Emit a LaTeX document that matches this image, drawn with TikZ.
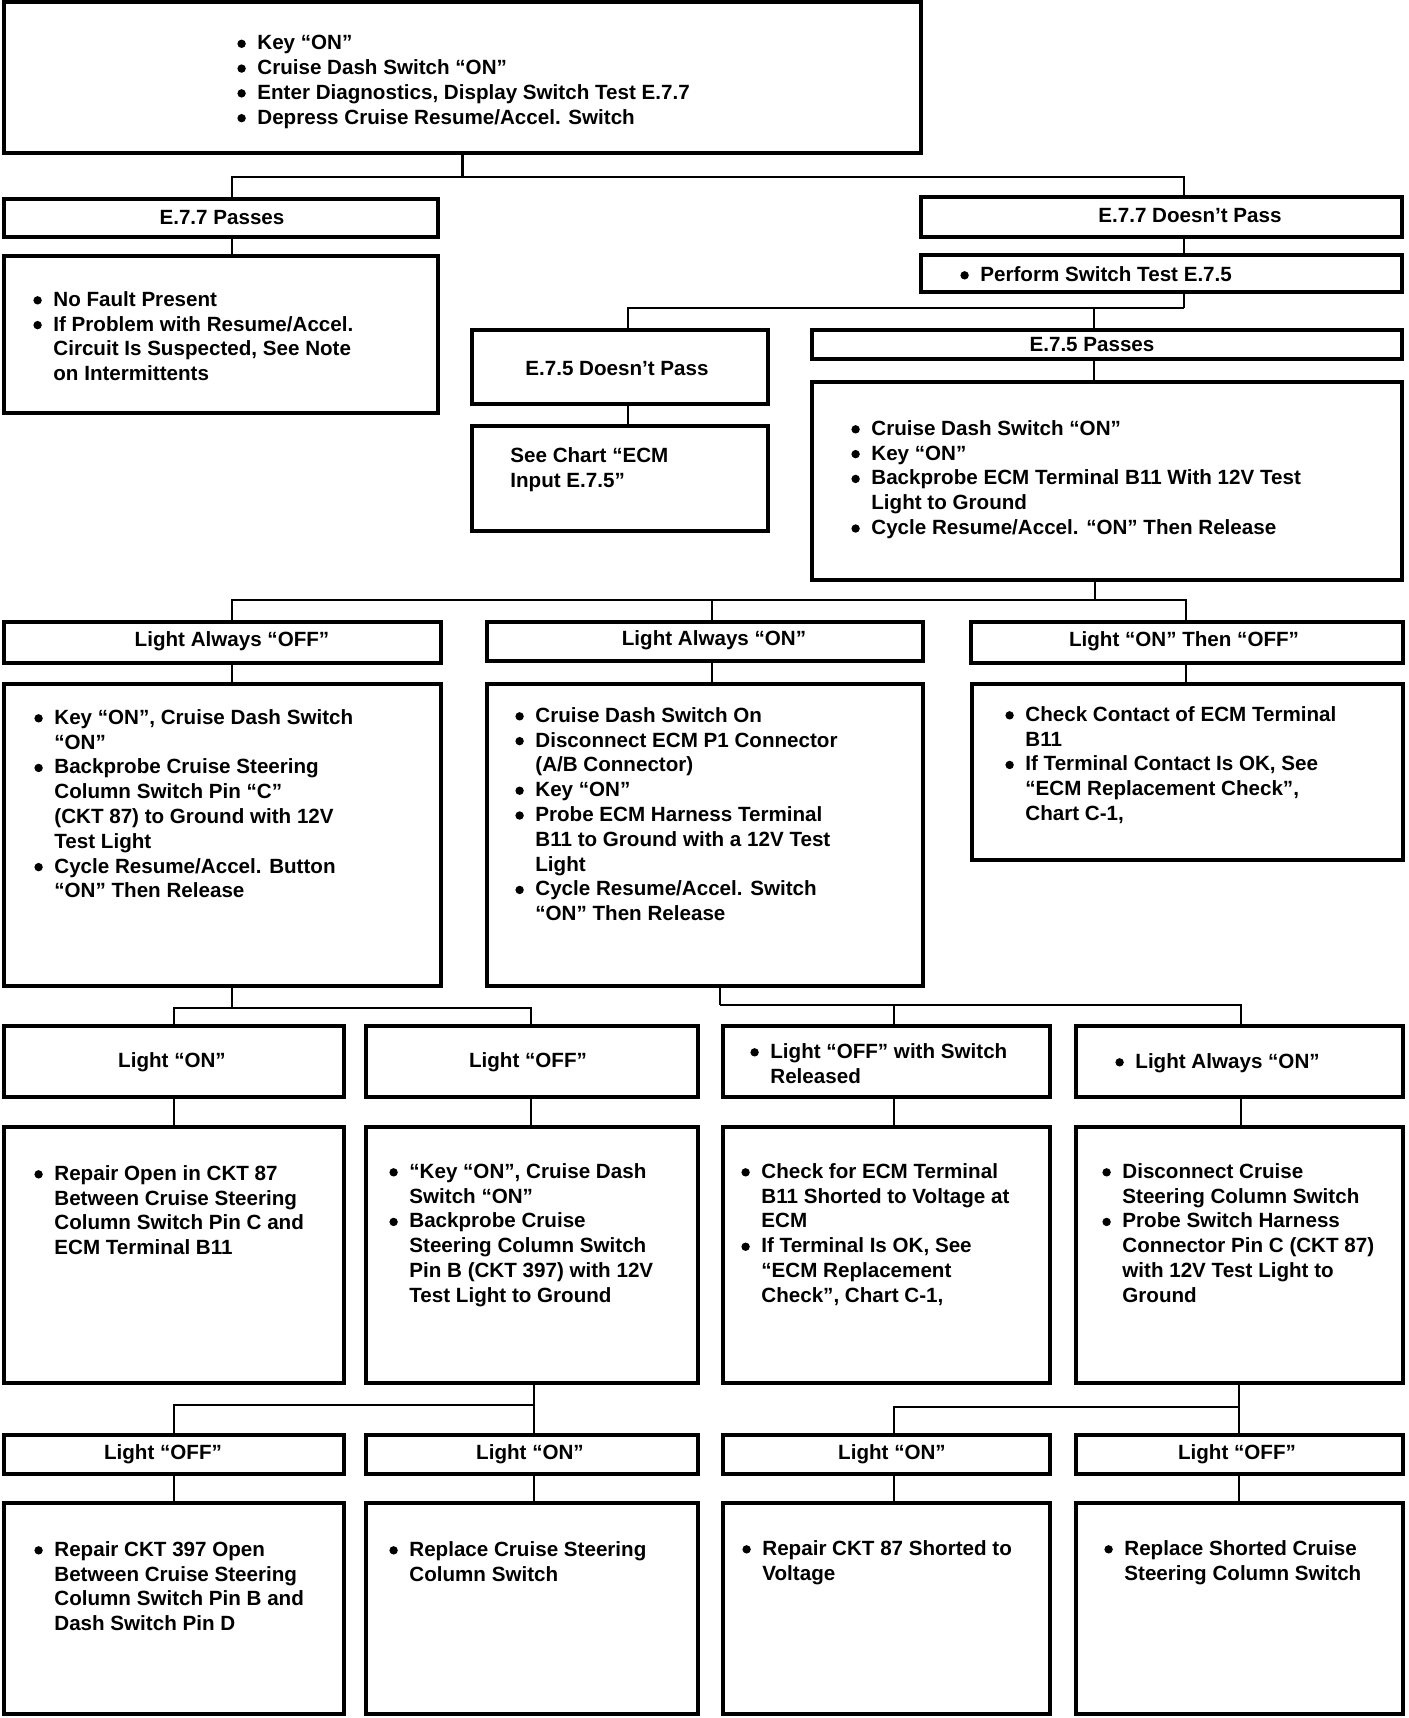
\documentclass[tikz,border=0pt]{standalone}
\usepackage{fontspec}
\setmainfont{Liberation Sans}
\usetikzlibrary{calc}
\tikzset{
 box/.style={draw, line width=1.8pt, inner sep=0pt, outer sep=0pt},
 conn/.style={line width=1.4pt},
 txt/.style={anchor=north west, align=left, inner sep=0pt, font=\bfseries\fontsize{10.3}{12.4}\selectfont},
 lbl/.style={anchor=center, align=center, inner sep=0pt, font=\bfseries\fontsize{10.3}{12.4}\selectfont},
}
\newcommand\bul{\makebox[10pt][l]{\tikz[x=1pt,y=1pt,baseline=-3pt]\fill (2pt,0) circle (2.1pt);}}
\newcommand\ind{\hspace*{10pt}}
\newcommand\bx[5]{\node[box, minimum width={(#4-#2)*0.5pt}, minimum height={(#5-#3)*0.5pt}] (#1) at ({(#2+#4)/2},{(#3+#5)/2}) {};}
\begin{document}
\begin{tikzpicture}[x=0.5pt,y=-0.5pt]
\fill[white] (0,0) rectangle (1408,1718);
\useasboundingbox (0,0) rectangle (1408,1718);
% boxes
\bx{top}{4}{2}{921}{153}
\bx{pa}{4}{199}{438}{237}
\bx{fa}{921}{197}{1402}{237}
\bx{nf}{4}{256}{438}{413}
\bx{perf}{921}{255}{1402}{292}
\bx{dp}{472}{330}{768}{404}
\bx{sc}{472}{426}{768}{531}
\bx{ps}{812}{330}{1402}{359}
\bx{psc}{812}{382}{1402}{580}
\bx{la}{4}{622}{441}{663}
\bx{lb}{487}{622}{923}{661}
\bx{lc}{971}{622}{1403}{663}
\bx{lac}{4}{684}{441}{986}
\bx{lbc}{487}{684}{923}{986}
\bx{lcc}{972}{684}{1403}{860}
\bx{ma}{4}{1026}{344}{1097}
\bx{mb}{366}{1026}{698}{1097}
\bx{mc}{723}{1026}{1050}{1097}
\bx{md}{1076}{1026}{1403}{1097}
\bx{mac}{4}{1127}{344}{1383}
\bx{mbc}{366}{1127}{698}{1383}
\bx{mcc}{723}{1127}{1050}{1383}
\bx{mdc}{1076}{1127}{1403}{1383}
\bx{na}{4}{1435}{344}{1474}
\bx{nb}{366}{1435}{698}{1474}
\bx{nc}{723}{1435}{1050}{1474}
\bx{nd}{1076}{1435}{1403}{1474}
\bx{nac}{4}{1503}{344}{1714}
\bx{nbc}{366}{1503}{698}{1714}
\bx{ncc}{723}{1503}{1050}{1714}
\bx{ndc}{1076}{1503}{1403}{1714}
% connectors
\draw[conn] (top.south) -- ++(0,24) coordinate (j1);
\draw[conn] (j1) -| ($(pa.north west)+(228,0)$);
\draw[conn] (j1) -| ($(fa.north west)+(263,0)$);
\draw[conn] ($(pa.south west)+(228,0)$) -- ($(nf.north west)+(228,0)$);
\draw[conn] ($(fa.south west)+(263,0)$) -- ($(perf.north west)+(263,0)$);
\draw[conn] ($(perf.south west)+(263,0)$) -- ++(0,16) coordinate (j2);
\draw[conn] (j2) -| ($(dp.north west)+(156,0)$);
\draw[conn] ($(ps.north west)+(282,0)$) |- (j2);
\draw[conn] ($(dp.south west)+(156,0)$) -- ($(sc.north west)+(156,0)$);
\draw[conn] ($(ps.south west)+(282,0)$) -- ($(psc.north west)+(282,0)$);
\draw[conn] ($(psc.south west)+(283,0)$) -- ++(0,20) coordinate (j3);
\draw[conn] (j3) -| ($(la.north west)+(228,0)$);
\draw[conn] (j3) -| ($(lc.north west)+(215,0)$);
\draw[conn] ($(lb.north west)+(225,0)$) |- (j3);
\draw[conn] ($(la.south west)+(228,0)$) -- ($(lac.north west)+(228,0)$);
\draw[conn] ($(lb.south west)+(225,0)$) -- ($(lbc.north west)+(225,0)$);
\draw[conn] ($(lc.south west)+(215,0)$) -- ($(lcc.north west)+(214,0)$);
\draw[conn] ($(lac.south west)+(228,0)$) -- ++(0,22) coordinate (j4);
\draw[conn] (j4) -| ($(ma.north west)+(170,0)$);
\draw[conn] (j4) -| ($(mb.north west)+(165,0)$);
\draw[conn] ($(lbc.south west)+(233,0)$) -- ++(0,19) coordinate (j5);
\draw[conn] (j5) -| ($(md.north west)+(165,0)$);
\draw[conn] ($(mc.north west)+(171,0)$) |- (j5);
\draw[conn] ($(ma.south west)+(170,0)$) -- ($(mac.north west)+(170,0)$);
\draw[conn] ($(mb.south west)+(165,0)$) -- ($(mbc.north west)+(165,0)$);
\draw[conn] ($(mc.south west)+(171,0)$) -- ($(mcc.north west)+(171,0)$);
\draw[conn] ($(md.south west)+(165,0)$) -- ($(mdc.north west)+(165,0)$);
\draw[conn] ($(mbc.south west)+(168,0)$) -- ++(0,22) coordinate (j6);
\draw[conn] (j6) -| ($(na.north west)+(170,0)$);
\draw[conn] (j6) -- ($(nb.north west)+(168,0)$);
\draw[conn] ($(mdc.south west)+(163,0)$) -- ++(0,24) coordinate (j7);
\draw[conn] (j7) -- ($(nd.north west)+(163,0)$);
\draw[conn] (j7) -| ($(nc.north west)+(171,0)$);
\draw[conn] ($(na.south west)+(170,0)$) -- ($(nac.north west)+(170,0)$);
\draw[conn] ($(nb.south west)+(168,0)$) -- ($(nbc.north west)+(168,0)$);
\draw[conn] ($(nc.south west)+(171,0)$) -- ($(ncc.north west)+(171,0)$);
\draw[conn] ($(nd.south west)+(163,0)$) -- ($(ndc.north west)+(163,0)$);
% texts
\node[txt] (ttop) at (237,35) {\bul Key “ON”\\\bul Cruise Dash Switch “ON”\\\bul Enter Diagnostics, Display Switch Test E.7.7\\\bul Depress Cruise Resume/Accel. Switch};
\node[lbl] (tpa) at (222,218) {E.7.7 Passes};
\node[lbl] (tfa) at (1190,216) {E.7.7 Doesn’t Pass};
\node[txt] (tnf) at (33,291) {\bul No Fault Present\\\bul If Problem with Resume/Accel.\\\ind Circuit Is Suspected, See Note\\\ind on Intermittents};
\node[txt] (tperf) at (960,266) {\bul Perform Switch Test E.7.5};
\node[lbl] (tdp) at (617,369) {E.7.5 Doesn’t Pass};
\node[txt] (tsc) at (510,447) {See Chart “ECM\\Input E.7.5”};
\node[lbl] (tps) at (1092,345) {E.7.5 Passes};
\node[txt] (tpsc) at (851,420) {\bul Cruise Dash Switch “ON”\\\bul Key “ON”\\\bul Backprobe ECM Terminal B11 With 12V Test\\\ind Light to Ground\\\bul Cycle Resume/Accel. “ON” Then Release};
\node[lbl] (tla) at (232,641) {Light Always “OFF”};
\node[lbl] (tlb) at (714,640) {Light Always “ON”};
\node[lbl] (tlc) at (1184,641) {Light “ON” Then “OFF”};
\node[txt] (tlac) at (34,709) {\bul Key “ON”, Cruise Dash Switch\\\ind “ON”\\\bul Backprobe Cruise Steering\\\ind Column Switch Pin “C”\\\ind (CKT 87) to Ground with 12V\\\ind Test Light\\\bul Cycle Resume/Accel. Button\\\ind “ON” Then Release};
\node[txt] (tlbc) at (515,707) {\bul Cruise Dash Switch On\\\bul Disconnect ECM P1 Connector\\\ind (A/B Connector)\\\bul Key “ON”\\\bul Probe ECM Harness Terminal\\\ind B11 to Ground with a 12V Test\\\ind Light\\\bul Cycle Resume/Accel. Switch\\\ind “ON” Then Release};
\node[txt] (tlcc) at (1005,706) {\bul Check Contact of ECM Terminal\\\ind B11\\\bul If Terminal Contact Is OK, See\\\ind “ECM Replacement Check”,\\\ind Chart C-1,};
\node[lbl] (tma) at (172,1062) {Light “ON”};
\node[lbl] (tmb) at (528,1062) {Light “OFF”};
\node[txt] (tmc) at (750,1043) {\bul Light “OFF” with Switch\\\ind Released};
\node[txt] (tmd) at (1115,1053) {\bul Light Always “ON”};
\node[txt] (tmac) at (34,1165) {\bul Repair Open in CKT 87\\\ind Between Cruise Steering\\\ind Column Switch Pin C and\\\ind ECM Terminal B11};
\node[txt] (tmbc) at (389,1163) {\bul “Key “ON”, Cruise Dash\\\ind Switch “ON”\\\bul Backprobe Cruise\\\ind Steering Column Switch\\\ind Pin B (CKT 397) with 12V\\\ind Test Light to Ground};
\node[txt] (tmcc) at (741,1163) {\bul Check for ECM Terminal\\\ind B11 Shorted to Voltage at\\\ind ECM\\\bul If Terminal Is OK, See\\\ind “ECM Replacement\\\ind Check”, Chart C-1,};
\node[txt] (tmdc) at (1102,1163) {\bul Disconnect Cruise\\\ind Steering Column Switch\\\bul Probe Switch Harness\\\ind Connector Pin C (CKT 87)\\\ind with 12V Test Light to\\\ind Ground};
\node[lbl] (tna) at (163,1454) {Light “OFF”};
\node[lbl] (tnb) at (530,1454) {Light “ON”};
\node[lbl] (tnc) at (892,1454) {Light “ON”};
\node[lbl] (tnd) at (1237,1454) {Light “OFF”};
\node[txt] (tnac) at (34,1541) {\bul Repair CKT 397 Open\\\ind Between Cruise Steering\\\ind Column Switch Pin B and\\\ind Dash Switch Pin D};
\node[txt] (tnbc) at (389,1541) {\bul Replace Cruise Steering\\\ind Column Switch};
\node[txt] (tncc) at (742,1540) {\bul Repair CKT 87 Shorted to\\\ind Voltage};
\node[txt] (tndc) at (1104,1540) {\bul Replace Shorted Cruise\\\ind Steering Column Switch};
\end{tikzpicture}
\end{document}
